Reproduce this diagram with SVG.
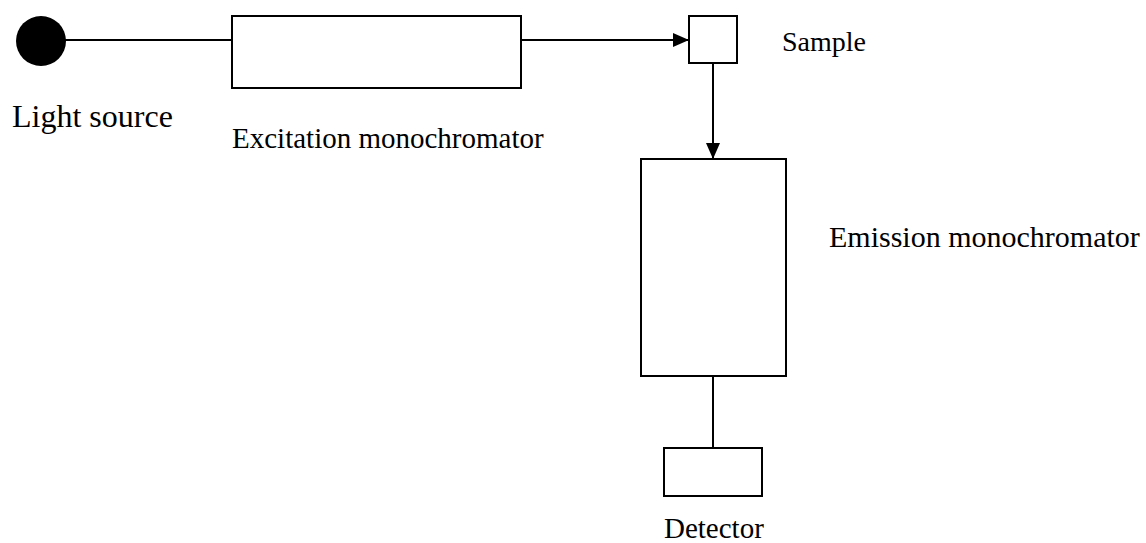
<svg xmlns="http://www.w3.org/2000/svg" width="1146" height="543" viewBox="0 0 1146 543">
<defs>
<style>
.box{fill:#fff;stroke:#000;stroke-width:2}
.ln{fill:none;stroke:#000;stroke-width:2}
.lbl{font-family:"Liberation Serif","Times New Roman",serif;fill:#000}
</style>
<marker id="arr" markerWidth="16" markerHeight="14" refX="16" refY="7" orient="auto" markerUnits="userSpaceOnUse">
<path d="M0,0 L16,7 L0,14 Z" fill="#000"/>
</marker>
</defs>
<rect width="1146" height="543" fill="#fff"/>
<g id="connectors">
<line class="ln" x1="64" y1="40" x2="232" y2="40"/>
<line class="ln" x1="521" y1="40" x2="689" y2="40" marker-end="url(#arr)"/>
<line class="ln" x1="713" y1="63" x2="713" y2="159" marker-end="url(#arr)"/>
<line class="ln" x1="713" y1="376" x2="713" y2="448"/>
</g>
<g id="light-source">
<circle cx="41" cy="41" r="25" fill="#000"/>
<text class="lbl" x="12" y="127" font-size="32">Light source</text>
</g>
<g id="excitation">
<rect class="box" x="232" y="16" width="289" height="72"/>
<text class="lbl" x="232" y="148" font-size="29">Excitation monochromator</text>
</g>
<g id="sample">
<rect class="box" x="689" y="16" width="48" height="47"/>
<text class="lbl" x="782" y="51" font-size="28">Sample</text>
</g>
<g id="emission">
<rect class="box" x="641" y="159" width="145" height="217"/>
<text class="lbl" x="829" y="247" font-size="30">Emission monochromator</text>
</g>
<g id="detector">
<rect class="box" x="664" y="448" width="98" height="48"/>
<text class="lbl" x="664" y="538" font-size="29">Detector</text>
</g>
</svg>
